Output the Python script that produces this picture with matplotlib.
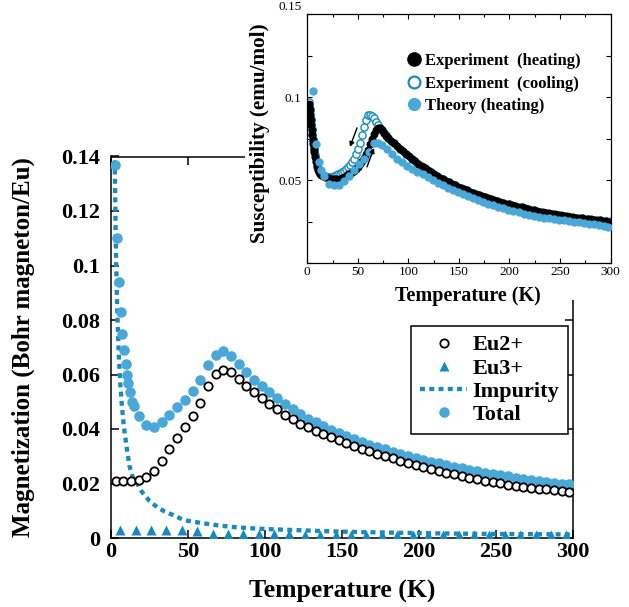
import matplotlib
matplotlib.use('Agg')
import matplotlib.pyplot as plt
import matplotlib.transforms as mtransforms
from matplotlib.lines import Line2D
from matplotlib.patches import Rectangle
from matplotlib.ticker import FixedLocator, FixedFormatter

plt.rcParams['font.family'] = ['Liberation Serif', 'DejaVu Serif']

# ---------------- main plot data ----------------
T_eu2 = [3, 8, 13, 18, 23, 28, 33, 38, 43, 48,
         53, 58, 63, 68, 73, 78, 83, 88, 93, 98,
         103, 108, 113, 118, 123, 128, 133, 138, 143, 148,
         153, 158, 163, 168, 173, 178, 183, 188, 193, 198,
         203, 208, 213, 218, 223, 228, 233, 238, 243, 248,
         253, 258, 263, 268, 273, 278, 283, 288, 293, 298]
eu2 = [0.0211, 0.0211, 0.0211, 0.0212, 0.0224, 0.0245, 0.0282, 0.0325, 0.0368, 0.0408,
       0.0447, 0.0496, 0.0557, 0.0603, 0.0617, 0.0609, 0.0585, 0.0557, 0.0536, 0.0514,
       0.0492, 0.0472, 0.0453, 0.0435, 0.0419, 0.0407, 0.0394, 0.0381, 0.0369, 0.0358,
       0.0347, 0.0337, 0.0327, 0.0318, 0.0309, 0.0300, 0.0292, 0.0284, 0.0276, 0.0268,
       0.0261, 0.0254, 0.0247, 0.0240, 0.0234, 0.0228, 0.0222, 0.0216, 0.0211, 0.0206,
       0.0201, 0.0196, 0.0192, 0.0188, 0.0184, 0.0181, 0.0178, 0.0175, 0.0172, 0.0169]

T_eu3 = [6, 16, 26, 36, 46, 56, 66, 76, 86, 96,
         106, 116, 126, 136, 146, 156, 166, 176, 186, 196,
         206, 216, 226, 236, 246, 256, 266, 276, 286, 296]
eu3 = [0.0031, 0.0031, 0.0031, 0.0031, 0.0028, 0.0024, 0.0016, 0.0014, 0.0014, 0.0013,
       0.0013, 0.0013, 0.0012, 0.0012, 0.0012, 0.0012, 0.0012, 0.0012, 0.0011, 0.0011,
       0.0011, 0.0011, 0.0011, 0.0011, 0.0011, 0.0011, 0.0011, 0.0011, 0.0011, 0.0011]

T_imp = [2.4, 2.6, 3.0, 3.5, 4.0, 4.5, 5, 6, 7, 8, 9, 10,
         12, 14, 17, 20, 25, 30, 35, 40, 45, 50,
         60, 70, 80, 90, 100, 120, 140, 160, 180, 200,
         225, 250, 275, 300]
imp = [0.142, 0.131, 0.113, 0.097, 0.085, 0.076, 0.068, 0.057, 0.049, 0.043, 0.038, 0.034,
       0.0265, 0.0225, 0.020, 0.017, 0.0136, 0.0113, 0.0097, 0.0085, 0.0072, 0.0063,
       0.0054, 0.0046, 0.0040, 0.0036, 0.0033, 0.0029, 0.0025, 0.0022, 0.0020, 0.0018,
       0.0016, 0.0015, 0.0014, 0.0013]

T_tot = [2.6, 3.7, 5.2, 6.3, 7.4, 8.4, 9.5, 10.2, 11.3, 12.4, 13.9, 15.2,
         18, 23, 28, 33, 38, 43, 48, 53, 58, 63,
         68, 73, 78, 83, 88, 93, 98, 103, 108, 113,
         118, 123, 128, 133, 138, 143, 148, 153, 158, 163,
         168, 173, 178, 183, 188, 193, 198, 203, 208, 213,
         218, 223, 228, 233, 238, 243, 248, 253, 258, 263,
         268, 273, 278, 283, 288, 293, 298]
tot = [0.137, 0.110, 0.094, 0.083, 0.075, 0.069, 0.064, 0.060, 0.057, 0.0535, 0.050, 0.0484,
       0.0447, 0.0414, 0.0408, 0.0426, 0.0451, 0.0481, 0.0508, 0.0541, 0.0579, 0.0634,
       0.0671, 0.0685, 0.0667, 0.0639, 0.0609, 0.0580, 0.0558, 0.0537, 0.0514, 0.0492,
       0.0472, 0.0454, 0.0438, 0.0424, 0.0411, 0.0398, 0.0386, 0.0374, 0.0363, 0.0353,
       0.0343, 0.0334, 0.0325, 0.0317, 0.0309, 0.0301, 0.0294, 0.0287, 0.0280, 0.0274,
       0.0268, 0.0262, 0.0256, 0.0251, 0.0245, 0.0240, 0.0236, 0.0231, 0.0226, 0.0222,
       0.0218, 0.0214, 0.0210, 0.0207, 0.0203, 0.0200, 0.0197]

main_xticks = [0, 50, 100, 150, 200, 250, 300]
main_yticks = [0, 0.02, 0.04, 0.06, 0.08, 0.1, 0.12, 0.14]
main_yticklabels = ['0', '0.02', '0.04', '0.06', '0.08', '0.1', '0.12', '0.14']
main_labels = ['Eu2+', 'Eu3+', 'Impurity', 'Total']

# ---------------- inset data ----------------
T_heat = [1.5, 2, 2.5, 3, 3.5, 4, 4.5, 5, 5.5, 6, 6.5, 7, 8, 9, 10,
          11, 12, 13, 14, 16, 18, 20, 22, 24, 26, 28, 30, 32, 34, 36,
          38, 40, 42, 44, 46, 48, 50, 52, 54, 56, 58, 60, 62, 64, 66,
          68, 70, 72, 74, 76, 78, 80, 83, 86, 89, 92, 95, 98, 101, 104,
          107, 110, 113, 116, 119, 122, 125, 128, 131, 134, 137, 140, 143, 146, 149,
          152, 155, 158, 161, 164, 167, 170, 173, 176, 179, 182, 185, 188, 191, 194,
          197, 200, 203, 206, 209, 212, 215, 218, 221, 224, 227, 230, 233, 236, 239,
          242, 245, 248, 251, 254, 257, 260, 263, 266, 269, 272, 275, 278, 281, 284,
          287, 290, 293, 296, 299]
chi_heat = [0.096, 0.094, 0.092, 0.089, 0.086, 0.083, 0.080, 0.077, 0.074, 0.072, 0.069, 0.067, 0.064, 0.061, 0.058,
            0.056, 0.055, 0.054, 0.053, 0.0525, 0.052, 0.0515, 0.051, 0.0507, 0.0505, 0.0505, 0.0507, 0.051, 0.0515, 0.052,
            0.0527, 0.0535, 0.054, 0.055, 0.0557, 0.0567, 0.058, 0.0597, 0.0615, 0.0633, 0.0655, 0.068, 0.0715, 0.0745, 0.0775,
            0.080, 0.0815, 0.0815, 0.080, 0.0785, 0.0768, 0.0755, 0.0738, 0.0721, 0.0705, 0.0689, 0.0674, 0.0659, 0.0644, 0.0629,
            0.0614, 0.0600, 0.0586, 0.0573, 0.0561, 0.0549, 0.0538, 0.0527, 0.0516, 0.0506, 0.0496, 0.0487, 0.0478, 0.0469, 0.0461,
            0.0453, 0.0446, 0.0439, 0.0432, 0.0425, 0.0418, 0.0411, 0.0405, 0.0398, 0.0392, 0.0386, 0.0380, 0.0375, 0.0369, 0.0364,
            0.0359, 0.0354, 0.0349, 0.0345, 0.0340, 0.0336, 0.0331, 0.0327, 0.0323, 0.0319, 0.0315, 0.0311, 0.0308, 0.0304, 0.0301,
            0.0298, 0.0295, 0.0292, 0.0289, 0.0286, 0.0283, 0.0280, 0.0278, 0.0275, 0.0273, 0.0270, 0.0268, 0.0266, 0.0264, 0.0262,
            0.0260, 0.0258, 0.0256, 0.0253, 0.0250]

T_cool = [1.5, 2, 2.5, 3, 3.5, 4, 4.5, 5, 5.5, 6, 6.5, 7, 8, 9, 10,
          11, 12, 13, 14, 16, 18, 20, 22, 24, 26, 28, 30, 32, 34, 36,
          38, 40, 42, 44, 46, 48, 50, 52, 54, 56, 58, 60, 62, 64, 66,
          68, 70, 72, 74, 76, 78, 80, 86, 92, 98, 104, 110, 116, 122, 128,
          134, 140, 146, 152, 158, 164, 170, 176, 182, 188, 194, 200, 206, 212, 218,
          224, 230, 236, 242, 248, 254, 260, 266, 272, 278, 284, 290, 296, 300]
chi_cool = [0.097, 0.095, 0.093, 0.090, 0.087, 0.084, 0.081, 0.078, 0.075, 0.073, 0.070, 0.068, 0.065, 0.062, 0.059,
            0.057, 0.0555, 0.0545, 0.0535, 0.053, 0.0525, 0.052, 0.052, 0.0522, 0.0525, 0.053, 0.0535, 0.054, 0.0548, 0.0556,
            0.0565, 0.0578, 0.059, 0.0608, 0.063, 0.0655, 0.0685, 0.0725, 0.077, 0.082, 0.0865, 0.0890, 0.0895, 0.0887, 0.0872,
            0.0852, 0.0832, 0.0815, 0.0800, 0.0785, 0.0770, 0.0755, 0.0721, 0.0689, 0.0659, 0.0629, 0.0600, 0.0573, 0.0549, 0.0527,
            0.0506, 0.0487, 0.0469, 0.0453, 0.0439, 0.0425, 0.0411, 0.0398, 0.0386, 0.0375, 0.0364, 0.0354, 0.0345, 0.0336, 0.0327,
            0.0319, 0.0311, 0.0304, 0.0298, 0.0292, 0.0286, 0.0280, 0.0275, 0.0270, 0.0266, 0.0262, 0.0258, 0.0254, 0.0252]

T_theo = [5.3, 8.9, 11.2, 13.5, 16.2, 21, 26, 31, 36, 41,
          46, 51, 56, 61, 66, 70, 74, 79, 84, 89,
          94, 99, 104, 109, 114, 119, 124, 129, 134, 139,
          144, 149, 154, 159, 164, 169, 174, 179, 184, 189,
          194, 199, 204, 209, 214, 219, 224, 229, 234, 239,
          244, 249, 254, 259, 264, 269, 274, 279, 284, 289,
          294, 298]
chi_theo = [0.1038, 0.0717, 0.061, 0.056, 0.0524, 0.048, 0.047, 0.0474, 0.0494, 0.0526,
            0.056, 0.0596, 0.063, 0.067, 0.0721, 0.0725, 0.0711, 0.069, 0.066, 0.063,
            0.0607, 0.0588, 0.0570, 0.0552, 0.0535, 0.0519, 0.0503, 0.0486, 0.0470, 0.0455,
            0.0441, 0.0427, 0.0414, 0.0402, 0.0390, 0.0379, 0.0368, 0.0358, 0.0348, 0.0339,
            0.0330, 0.0322, 0.0314, 0.0306, 0.0299, 0.0292, 0.0286, 0.0280, 0.0275, 0.0270,
            0.0266, 0.0262, 0.0258, 0.0254, 0.0250, 0.0246, 0.0242, 0.0238, 0.0235, 0.0231,
            0.0226, 0.0221]

inset_labels = ['Experiment  (heating)', 'Experiment  (cooling)', 'Theory (heating)']
inset_xticks = [0, 50, 100, 150, 200, 250, 300]
inset_yticks = [0, 0.05, 0.1, 0.15]
inset_yticklabels = ['', '0.05', '0.1', '0.15']
arrow_cool = ((49.2, 0.0815), (42.2, 0.0700))
arrow_heat = ((59.1, 0.0580), (66.0, 0.0694))

# ---------------- styling ----------------
c_light = '#4aa8d8'
c_dark = '#178bbf'
W, H = 629, 607


def fx(px):
    return px / W


def fy(py):
    return 1 - py / H


fig = plt.figure(figsize=(W / 100, H / 100), dpi=100)

# main axes
ax = fig.add_axes([fx(111), fy(538), (572.5 - 111) / W, (538 - 156.5) / H])
ax.set_xlim(0, 300)
ax.set_ylim(0, 0.14)
for s in ax.spines.values():
    s.set_linewidth(1.1)

l_imp, = ax.plot(T_imp, imp, color=c_dark, lw=3.1, dashes=(1.15, 1.0), zorder=2)
l_tot, = ax.plot(T_tot, tot, ls='none', marker='o', ms=7.6, mfc=c_light, mec='none', zorder=3)
l_eu2, = ax.plot(T_eu2, eu2, ls='none', marker='o', ms=6.0, mfc='white', mec='black', mew=1.3, zorder=4)
l_eu3, = ax.plot(T_eu3, eu3, ls='none', marker='^', ms=7.5, mfc=c_dark, mec='none', zorder=5)

ax.xaxis.set_major_locator(FixedLocator(main_xticks))
ax.yaxis.set_major_locator(FixedLocator(main_yticks))
ax.yaxis.set_major_formatter(FixedFormatter(main_yticklabels))
ax.tick_params(direction='in', length=6, width=1.1, top=True, right=True, labelsize=16)
ax.tick_params(axis='x', pad=3)
ax.tick_params(axis='y', pad=8)
for lab in ax.get_xticklabels() + ax.get_yticklabels():
    lab.set_fontweight('bold')

fig.text(fx(342), fy(591), 'Temperature (K)', ha='center', va='center', fontsize=18.5, fontweight='bold')
fig.text(fx(23), fy(347), 'Magnetization (Bohr magneton/Eu)', ha='center', va='center',
         rotation=90, fontsize=18, fontweight='bold')

leg = ax.legend([l_eu2, l_eu3, l_imp, l_tot], main_labels, loc='upper right',
                bbox_to_anchor=(fx(568), fy(326)), bbox_transform=fig.transFigure,
                borderaxespad=0, fancybox=False, edgecolor='black', framealpha=1,
                borderpad=0.4, labelspacing=0.12, handlelength=2.15, handletextpad=0.22,
                prop=dict(weight='bold', size=16))
leg.get_frame().set_linewidth(1.1)

# white background for the inset
fig.patches.append(Rectangle((fx(245), fy(300)), (W - 245) / W, 300 / H,
                             transform=fig.transFigure, facecolor='white', edgecolor='none', zorder=1))

# inset axes
axi = fig.add_axes([fx(307.3), fy(263.3), (610.5 - 307.3) / W, (263.3 - 14) / H], zorder=2)
axi.set_xlim(0, 300)
axi.set_ylim(0, 0.15)
for s in axi.spines.values():
    s.set_linewidth(0.9)

axi.plot(T_cool, chi_cool, ls='none', marker='o', ms=5.2, mfc='white', mec=c_dark, mew=1.0, zorder=2)
axi.plot(T_heat, chi_heat, ls='none', marker='o', ms=5.2, mfc='black', mec='black', mew=0.5, zorder=3)
axi.plot(T_theo, chi_theo, ls='none', marker='o', ms=6.0, mfc=c_light, mec='none', zorder=4)

arrow_kw = dict(arrowstyle='-|>', lw=1.0, color='black', mutation_scale=7, shrinkA=0, shrinkB=0)
axi.annotate('', xy=arrow_cool[1], xytext=arrow_cool[0], arrowprops=arrow_kw, zorder=5)
axi.annotate('', xy=arrow_heat[1], xytext=arrow_heat[0], arrowprops=arrow_kw, zorder=5)

axi.xaxis.set_major_locator(FixedLocator(inset_xticks))
axi.xaxis.set_minor_locator(FixedLocator([25, 75, 125, 175, 225, 275]))
axi.yaxis.set_major_locator(FixedLocator(inset_yticks))
axi.yaxis.set_major_formatter(FixedFormatter(inset_yticklabels))
axi.yaxis.set_minor_locator(FixedLocator([0.025, 0.075, 0.125]))
axi.tick_params(which='both', direction='in', width=0.8, top=True, right=True, labelsize=9.5)
axi.tick_params(axis='x', which='major', length=3.5, pad=2)
axi.tick_params(axis='x', which='minor', length=2)
axi.tick_params(axis='y', which='both', length=3.5, pad=4)

# the topmost inset label sits a little above its tick in the reference
top_lab = axi.get_yticklabels()[-1]
top_lab.set_transform(top_lab.get_transform() +
                      mtransforms.ScaledTranslation(0, 8 / 100, fig.dpi_scale_trans))

fig.text(fx(468), fy(296), 'Temperature (K)', ha='center', va='center', fontsize=14.5,
         fontweight='bold', zorder=3)
fig.text(fx(260), fy(133), 'Susceptibility (emu/mol)', ha='center', va='center', rotation=90,
         fontsize=15.2, fontweight='bold', zorder=3)

hh = [Line2D([], [], ls='none', marker='o', ms=9.5, mfc='black', mec='black'),
      Line2D([], [], ls='none', marker='o', ms=8.5, mfc='white', mec=c_dark, mew=1.6),
      Line2D([], [], ls='none', marker='o', ms=9.5, mfc=c_light, mec='none')]
axi.legend(hh, inset_labels, loc='upper left', bbox_to_anchor=(fx(407), fy(53)),
           bbox_transform=fig.transFigure, frameon=False, borderpad=0, borderaxespad=0,
           handlelength=0.8, handletextpad=0.3, labelspacing=0.4,
           prop=dict(weight='bold', size=12))

fig.savefig('out.png', dpi=100)
